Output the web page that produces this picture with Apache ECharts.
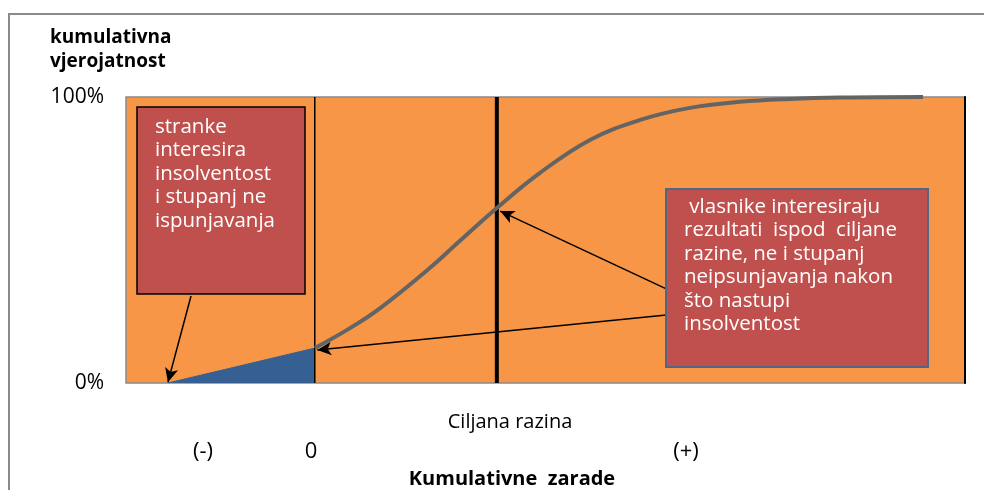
<!DOCTYPE html>
<html>
<head>
<meta charset="utf-8">
<script src="https://cdn.jsdelivr.net/npm/echarts@6/dist/echarts.min.js"></script>
<style>
  html,body{margin:0;padding:0;background:#fff;}
  #chart{width:984px;height:490px;}
</style>
</head>
<body>
<div id="chart"></div>
<script>
(function(){
  // ===== Podaci =====
  // S-krivulja kumulativne vjerojatnosti (x: zarada 0-100, y: %)
  const curveX = [22.5, 26.7, 30.3, 36.2, 39.8, 44.2, 49.3, 55.3, 61.3, 67.2, 73.2, 79.1, 85.1, 95.0];
  const curveY = [12.2, 19.2, 26.2, 40.2, 49.7, 61.2, 73.4, 85.0, 92.0, 96.2, 98.3, 99.3, 99.8, 100];
  // plavi trokut (insolventnost)
  const insolvX = [5.0, 22.5];
  const insolvY = [0, 12.2];
  // okomite linije: nula i ciljana razina
  const zeroLevel = 22.5;
  const targetLevel = 44.2;
  const yTicks = [0, 100];

  const leftBoxText = ['stranke','interesira','insolventost','i stupanj ne','ispunjavanja'];
  const rightBoxText = [' vlasnike interesiraju','rezultati  ispod  ciljane','razine, ne i stupanj','neipsunjavanja nakon','što nastupi','insolventost'];

  const FONT = '"Open Sans", "DejaVu Sans", sans-serif';

  const chart = echarts.init(document.getElementById('chart'), null, {renderer:'canvas'});

  const curve = curveX.map((x,i)=>[x, curveY[i]]);
  const insolv = insolvX.map((x,i)=>[x, insolvY[i]]);

  function arrow(x1,y1,x2,y2){ return [{coord:[x1,y1]},{coord:[x2,y2]}]; }

  chart.setOption({
    animation:false,
    grid:{left:126, top:97, width:839, height:286, show:true, backgroundColor:'#F79646', borderColor:'#8a8a8a', borderWidth:1.5},
    xAxis:{type:'value', min:0, max:100, axisLine:{show:false}, axisTick:{show:false}, axisLabel:{show:false}, splitLine:{show:false}},
    yAxis:[
      {type:'value', min:0, max:100, interval:100, axisLine:{show:false}, axisTick:{show:false}, splitLine:{show:false},
       axisLabel:{margin:22, color:'#000', fontSize:21, fontFamily:FONT, formatter:v=> yTicks.includes(v) ? v+'%' : ''}},
      {type:'value', position:'right', min:0, max:100, axisLine:{show:true, lineStyle:{color:'#000', width:2}}, axisTick:{show:false}, axisLabel:{show:false}, splitLine:{show:false}}
    ],
    series:[
      {type:'line', data:insolv, showSymbol:false, silent:true, lineStyle:{width:1, color:'#366092'}, areaStyle:{color:'#366092', opacity:1}, z:2},
      {type:'line', data:[[zeroLevel,0],[zeroLevel,100]], showSymbol:false, silent:true, lineStyle:{width:1.5, color:'#000'}, z:3},
      {type:'line', data:[[targetLevel,0],[targetLevel,100]], showSymbol:false, silent:true, lineStyle:{width:4, color:'#000'}, z:3},
      {type:'line', data:curve, smooth:0.4, showSymbol:false, silent:true, lineStyle:{width:4, color:'#646464'}, z:4,
       markLine:{silent:true, symbol:['none','arrow'], symbolSize:[10,14], label:{show:false},
         lineStyle:{color:'#000', width:1.5, type:'solid'},
         data:[
           arrow(7.75,30.4, 5.0,0.3),
           arrow(64.4,32.9, 44.6,60.1),
           arrow(64.4,23.8, 22.8,11.5)
         ]}}
    ],
    graphic:[
      {type:'rect', z:-10, silent:true, shape:{x:9,y:14,width:1100,height:600}, style:{fill:'none', stroke:'#8a8a8a', lineWidth:2}},
      {type:'text', left:50, top:26, silent:true, style:{text:'kumulativna\nvjerojatnost', font:'bold 19px '+FONT, fill:'#000', lineHeight:24}},
      {type:'rect', z:100, silent:true, shape:{x:137,y:107,width:168,height:187}, style:{fill:'#C0504D', stroke:'#000', lineWidth:1.5}},
      {type:'text', z:101, silent:true, x:155, y:115, style:{text:leftBoxText.join('\n'), font:'20.5px '+FONT, fill:'#fff', lineHeight:23.5}},
      {type:'rect', z:100, silent:true, shape:{x:666,y:189,width:262,height:178}, style:{fill:'#C0504D', stroke:'#4f6688', lineWidth:2}},
      {type:'text', z:101, silent:true, x:684, y:195, style:{text:rightBoxText.join('\n'), font:'20.5px '+FONT, fill:'#fff', lineHeight:23.5}},
      {type:'text', silent:true, x:510, y:422, style:{text:'Ciljana razina', font:'20px '+FONT, fill:'#000', align:'center', verticalAlign:'middle'}},
      {type:'text', silent:true, x:203, y:452, style:{text:'(-)', font:'22px '+FONT, fill:'#000', align:'center', verticalAlign:'middle'}},
      {type:'text', silent:true, x:311, y:452, style:{text:'0', font:'22px '+FONT, fill:'#000', align:'center', verticalAlign:'middle'}},
      {type:'text', silent:true, x:686, y:452, style:{text:'(+)', font:'22px '+FONT, fill:'#000', align:'center', verticalAlign:'middle'}},
      {type:'text', silent:true, x:512, y:479, style:{text:'Kumulativne  zarade', font:'bold 20px '+FONT, fill:'#000', align:'center', verticalAlign:'middle'}}
    ]
  });
})();
</script>
</body>
</html>
